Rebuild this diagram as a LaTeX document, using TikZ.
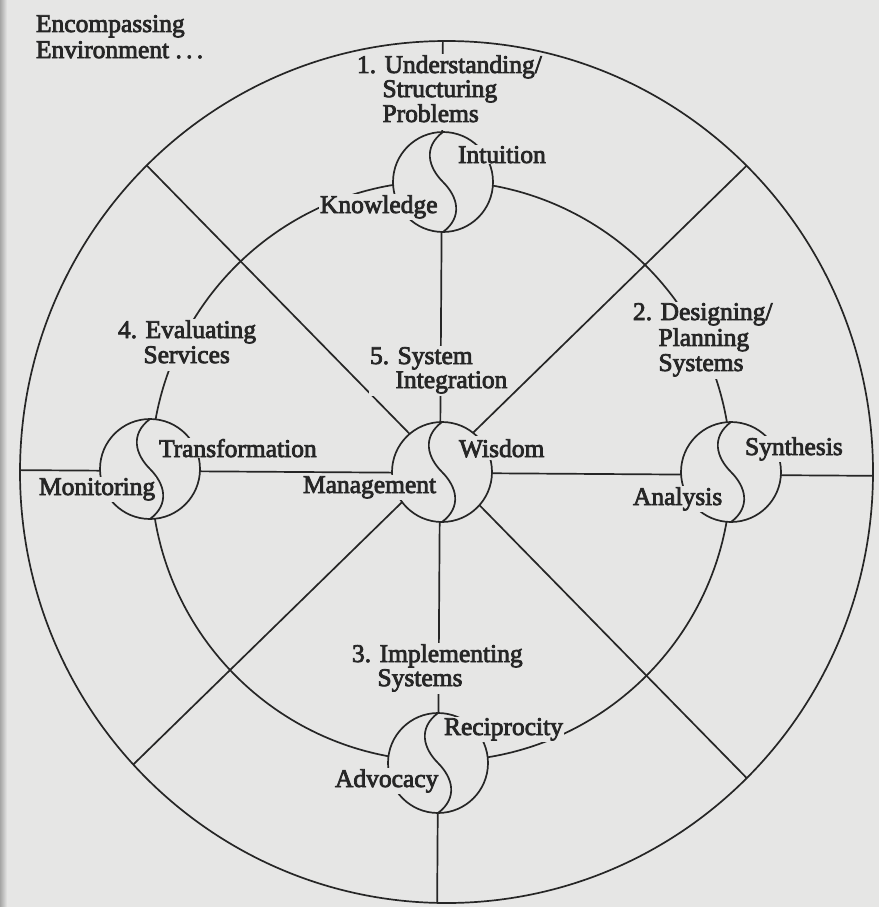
\documentclass[tikz,border=0pt]{standalone}
\usepackage{fontspec}
\setmainfont{Liberation Serif}
\newfontfamily\lblfont[FakeBold=3]{Liberation Serif}
\definecolor{paper}{RGB}{230,230,229}
\definecolor{ink}{RGB}{38,38,38}
\tikzset{
  lbl/.style={fill=paper, inner sep=1pt, outer sep=0pt, text=ink,
              font=\lblfont\fontsize{25.5}{24}\selectfont, anchor=base west},
  ln/.style={draw=ink, line width=1.7pt},
}
\newcommand{\hang}[1]{\hphantom{#1}\ }
\begin{document}
\begin{tikzpicture}[x=1pt,y=-1pt]
\useasboundingbox (0,0) rectangle (879,907);
\fill[paper] (0,0) rectangle (879,907);
\shade[left color=black!28!paper, right color=paper] (0,0) rectangle (7,907);

% spokes and diagonals, clipped by the encompassing circle
\begin{scope}
  \clip (446.5,472) ellipse [x radius=426.5, y radius=431];
  \draw[ln] (443,20) -- (437,925);
  \draw[ln] (0,470) -- (900,476);
  \draw[ln] (113,131) -- (778,810);
  \draw[ln] (776,137) -- (99,798);
\end{scope}

% inner ring
\draw[ln] (441,471) circle [radius=290];

% the five small circles with their S-curves
\foreach \c in {(443,182),(731,472),(438,763),(150,469),(442,472)} {
  \fill[paper] \c circle [radius=50];
  \draw[ln] \c circle [radius=50];
  \draw[ln, shift={\c}] (0,-50) .. controls (-20,-35) and (-15,-15) .. (0,0)
                                .. controls (15,15) and (20,35) .. (0,50);
}

% encompassing circle
\draw[ln] (446.5,472) ellipse [x radius=426.5, y radius=431];

% stage labels
\node[lbl] (env) at (35,32) {\begin{tabular}[t]{@{}l@{}}Encompassing\\[2pt]Environment~.\,.\,.\end{tabular}};
\node[lbl] (s1) at (356,73) {\begin{tabular}[t]{@{}l@{}}1. Understanding/\\\hang{1.}Structuring\\\hang{1.}Problems\end{tabular}};
\node[lbl] (s2) at (632,320) {\begin{tabular}[t]{@{}l@{}}2. Designing/\\[1pt]\hang{2.}Planning\\[1pt]\hang{2.}Systems\end{tabular}};
\node[lbl] (s3) at (351,662) {\begin{tabular}[t]{@{}l@{}}3. Implementing\\\hang{3.}Systems\end{tabular}};
\node[lbl] (s4) at (117,338) {\begin{tabular}[t]{@{}l@{}}4. Evaluating\\[1pt]\hang{4.}Services\end{tabular}};
\node[lbl] (s5) at (369,364) {\begin{tabular}[t]{@{}l@{}}5. System\\\hang{5.}Integration\end{tabular}};

% circle labels
\node[lbl] (intuition) at (457,163) {Intuition};
\node[lbl] (knowledge) at (319,213) {Knowledge};
\node[lbl] (transformation) at (158,457) {Transformation};
\node[lbl] (monitoring) at (38,495) {Monitoring};
\node[lbl, inner ysep=3pt] (wisdom) at (458,457) {Wisdom};
\node[lbl] (management) at (302,493) {Management};
\node[lbl] (synthesis) at (744,455) {Synthesis};
\node[lbl] (analysis) at (632,505) {Analysis};
\node[lbl] (reciprocity) at (443,735) {Reciprocity};
\node[lbl] (advocacy) at (334,787) {Advocacy};
\end{tikzpicture}
\end{document}
